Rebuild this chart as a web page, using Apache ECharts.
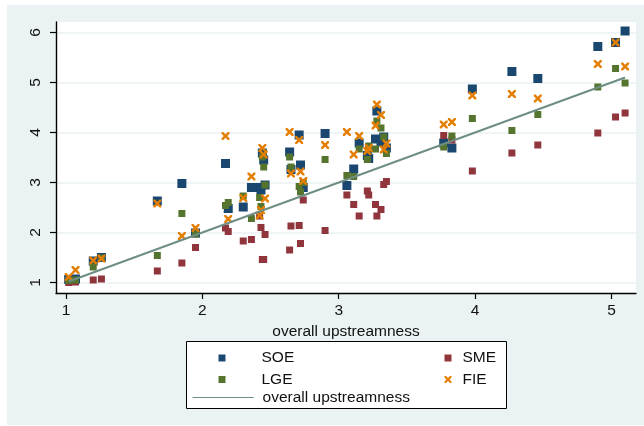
<!DOCTYPE html>
<html>
<head>
<meta charset="utf-8">
<script src="https://cdn.jsdelivr.net/npm/echarts@6/dist/echarts.min.js"></script>
<style>
html,body{margin:0;padding:0;background:#fff;}
#wrap{position:relative;width:644px;height:426px;overflow:hidden;}
#bg{position:absolute;left:7px;top:5px;width:637px;height:420px;background:#EAF2F3;}
#chart{position:absolute;left:0;top:0;width:644px;height:426px;}
</style>
</head>
<body>
<div id="wrap"><div id="bg"></div><div id="chart"></div></div>
<script>
// overall upstreamness of each industry (x) and upstreamness by firm type (y)
const upstreamness = [1.02,1.07,1.20,1.26,1.67,1.85,1.95,2.17,2.19,2.30,2.36,2.42,2.43,2.44,2.45,2.46,2.64,2.65,2.71,2.72,2.74,2.90,3.06,3.11,3.15,3.21,3.22,3.27,3.28,3.31,3.33,3.35,3.77,3.83,3.98,4.27,4.46,4.90,5.03,5.10];
const soe = [1.06,1.07,1.43,1.50,2.63,2.98,1.99,3.38,2.48,2.51,2.90,2.90,2.85,3.59,3.45,2.95,3.61,3.26,3.95,3.35,2.90,3.98,2.94,3.27,3.79,3.54,3.48,3.87,4.43,3.81,3.91,3.69,3.79,3.69,4.87,5.22,5.08,5.72,5.80,6.03];
const sme = [1.00,1.01,1.05,1.07,1.23,1.39,1.70,2.09,2.02,1.83,1.86,2.33,2.10,1.46,1.46,1.96,1.65,2.13,2.14,1.78,2.65,2.04,2.75,2.56,2.33,2.83,2.75,2.56,2.33,2.46,2.96,3.02,3.94,3.85,3.23,3.59,3.75,3.99,4.31,4.39];
const lge = [1.04,1.05,1.31,1.49,1.54,2.38,1.97,2.54,2.60,2.73,2.28,2.70,2.52,3.51,3.31,2.95,3.51,3.31,2.92,2.81,3.00,3.46,3.14,3.12,3.67,3.46,3.73,3.67,4.23,4.09,3.91,3.58,3.71,3.93,4.28,4.04,4.36,4.91,5.28,4.99];
const fie = [1.11,1.25,1.44,1.48,2.58,1.93,2.09,3.93,2.27,2.69,3.12,2.34,2.45,3.69,3.56,2.68,4.01,3.18,3.85,3.22,3.03,3.75,4.01,3.56,3.93,3.63,3.69,4.14,4.56,4.35,3.66,3.78,4.16,4.21,4.74,4.77,4.68,5.37,5.80,5.32];
const xTicks = [1,2,3,4,5];
const yTicks = [1,2,3,4,5,6];
const seriesNames = ['SOE','SME','LGE','FIE','overall upstreamness'];
const xTitle = 'overall upstreamness';

const FONT = '"Liberation Sans", Arial, Helvetica, sans-serif';
const TXT = '#111';
const FS = 15.5;
const colors = {SOE:'#1a476f', SME:'#90353b', LGE:'#55752f', FIE:'#e37e00', line:'#6e8e84'};
const xSym = 'path://M0,0 L2.2,0 L5,2.8 L7.8,0 L10,0 L10,2.2 L7.2,5 L10,7.8 L10,10 L7.8,10 L5,7.2 L2.2,10 L0,10 L0,7.8 L2.8,5 L0,2.2 Z';

function pts(ys){ return upstreamness.map((x,i)=>[x, ys[i]]); }

const chart = echarts.init(document.getElementById('chart'), null, {renderer:'canvas'});

function legendItem(name, left, top, w, h, padLeft, extra){
  return Object.assign({
    data:[name], left:left, top:top, padding:0, orient:'horizontal',
    itemWidth:w, itemHeight:h, selectedMode:false,
    textStyle:{fontFamily:FONT, fontSize:FS, color:TXT, padding:[0,0,0,padLeft]},
    lineStyle:{width:1.2}
  }, extra || {});
}

chart.setOption({
  animation:false,
  textStyle:{fontFamily:FONT},
  grid:{left:56, right:8, top:22, bottom:133, show:true, backgroundColor:'#fff', borderWidth:0, containLabel:false},
  graphic:[{
    type:'rect', left:186, top:341, z:-1,
    shape:{width:320, height:67},
    style:{fill:'#fff', stroke:'#000', lineWidth:1}
  }],
  legend:[
    legendItem('SOE', 218.5, 350, 7, 7, 31),
    legendItem('SME', 444.5, 350, 7, 7, 6),
    legendItem('LGE', 218.5, 371.5, 7, 7, 31),
    legendItem('FIE', 444.5, 371.5, 7, 7, 6),
    legendItem('overall upstreamness', 192, 389.5, 61, 14, 4, {itemStyle:{opacity:0, borderWidth:0}})
  ],
  xAxis:{
    type:'value', min:0.927, max:5.18,
    name:xTitle, nameLocation:'middle', nameGap:13,
    nameTextStyle:{fontFamily:FONT, fontSize:FS, color:TXT},
    axisLine:{show:true, onZero:false, lineStyle:{color:'#000', width:1.4}},
    axisTick:{show:true, length:6, customValues:xTicks, lineStyle:{color:'#000', width:1.2}},
    axisLabel:{customValues:xTicks, margin:12, lineHeight:11, fontFamily:FONT, fontSize:FS, color:TXT},
    splitLine:{show:false}
  },
  yAxis:{
    type:'value', min:0.79, max:6.21,
    axisLine:{show:true, onZero:false, lineStyle:{color:'#000', width:1.4}},
    axisTick:{show:true, length:6, customValues:yTicks, lineStyle:{color:'#000', width:1.2}},
    axisLabel:{customValues:yTicks, rotate:90, margin:12, fontFamily:FONT, fontSize:FS, color:TXT},
    splitLine:{show:true, lineStyle:{color:'#EAF2F3', width:1.5}}
  },
  series:[
    {name:'SOE', type:'scatter', data:pts(soe), symbol:'rect', symbolSize:9, itemStyle:{color:colors.SOE, opacity:1}},
    {name:'SME', type:'scatter', data:pts(sme), symbol:'rect', symbolSize:7, itemStyle:{color:colors.SME, opacity:1}},
    {name:'LGE', type:'scatter', data:pts(lge), symbol:'rect', symbolSize:7, itemStyle:{color:colors.LGE, opacity:1}},
    {name:'FIE', type:'scatter', data:pts(fie), symbol:xSym, symbolSize:8, itemStyle:{color:colors.FIE, opacity:1}},
    {name:'overall upstreamness', type:'line', data:upstreamness.map(x=>[x,x]), symbol:'none', showSymbol:false,
     lineStyle:{color:colors.line, width:2}, itemStyle:{color:colors.line}, z:3}
  ]
});
</script>
</body>
</html>
